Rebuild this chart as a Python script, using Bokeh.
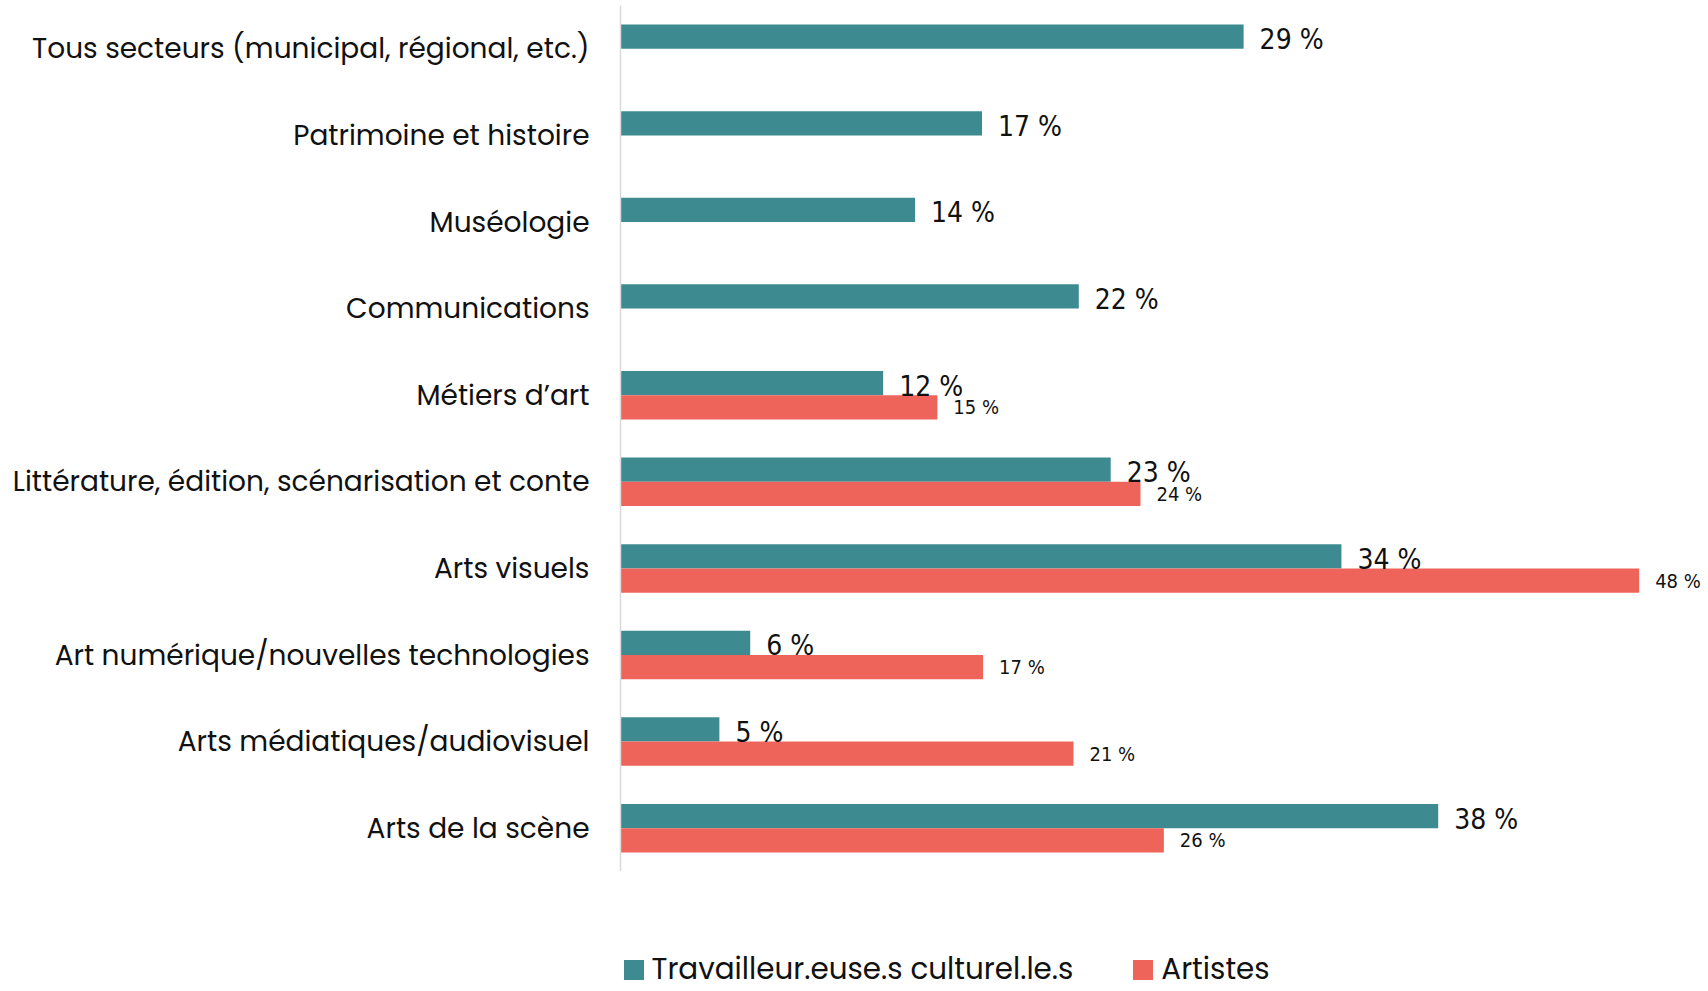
from bokeh.plotting import figure
from bokeh.layouts import column
from bokeh.models import ColumnDataSource, FactorRange, Legend, LegendItem, Range1d
from bokeh.transform import dodge
from bokeh.core.properties import value
from bokeh.embed import file_html
from bokeh.resources import INLINE

categories = [
    "Tous secteurs (municipal, régional, etc.)",
    "Patrimoine et histoire",
    "Muséologie",
    "Communications",
    "Métiers d’art",
    "Littérature, édition, scénarisation et conte",
    "Arts visuels",
    "Art numérique/nouvelles technologies",
    "Arts médiatiques/audiovisuel",
    "Arts de la scène",
]
# values (%); labels are the rounded values shown
travailleurs = [29.3, 17.0, 13.85, 21.55, 12.35, 23.05, 33.9, 6.1, 4.65, 38.45]
artistes = [None, None, None, None, 14.9, 24.45, 47.9, 17.05, 21.3, 25.55]
series_names = ["Travailleur.euse.s culturel.le.s", "Artistes"]

TEAL = "#3D8B91"
RED = "#EE645A"
LABEL_FONT = "Poppins, Open Sans, sans-serif"
NUM_FONT = "Liberation Sans Narrow, DejaVu Sans Condensed, sans-serif"

src_t = ColumnDataSource(dict(cat=categories, val=travailleurs,
                              lab=[f"{v:.0f} %" for v in travailleurs]))
a_cat = [c for c, v in zip(categories, artistes) if v is not None]
a_val = [v for v in artistes if v is not None]
src_a = ColumnDataSource(dict(cat=a_cat, val=a_val, lab=[f"{v:.0f} %" for v in a_val]))

p = figure(width=1708, height=871, output_backend="svg", toolbar_location=None,
           y_range=FactorRange(factors=list(reversed(categories))),
           x_range=Range1d(0, 51.16),
           min_border_left=620, min_border_right=0, min_border_top=5, min_border_bottom=0)
p.outline_line_color = None
p.grid.visible = False
p.xaxis.visible = False

H = 0.28
r_t = p.hbar(y=dodge("cat", H / 2, range=p.y_range), right="val", left=0, height=H,
             color=TEAL, line_color=None, source=src_t)
r_a = p.hbar(y=dodge("cat", -H / 2, range=p.y_range), right="val", left=0, height=H,
             color=RED, line_color=None, source=src_a)

p.text(x="val", y=dodge("cat", H / 2 - 0.035, range=p.y_range), text="lab", source=src_t,
       x_offset=16, text_baseline="middle", text_font=value(NUM_FONT),
       text_font_size="28px", text_color="#111111")
p.text(x="val", y=dodge("cat", -H / 2, range=p.y_range), text="lab", source=src_a,
       x_offset=16, text_baseline="middle", text_font=value(NUM_FONT),
       text_font_size="20px", text_color="#111111")

ya = p.yaxis[0]
ya.axis_line_color = "#D9D9D9"
ya.axis_line_width = 1.5
ya.major_tick_line_color = None
ya.minor_tick_line_color = None
ya.major_tick_out = 0
ya.major_tick_in = 0
ya.major_label_standoff = 31
ya.major_label_text_font = LABEL_FONT
ya.major_label_text_font_size = "28px"
ya.major_label_text_color = "#111111"

# legend strip below the chart (its renderers are hidden copies of the series)
q = figure(width=1708, height=120, output_backend="svg", toolbar_location=None,
           x_range=Range1d(0, 51.16), y_range=FactorRange(factors=list(reversed(categories))),
           min_border_left=620, min_border_right=0, min_border_top=0, min_border_bottom=0)
q.outline_line_color = None
q.grid.visible = False
q.axis.visible = False
lt = q.hbar(y="cat", right="val", left=0, height=H, color=TEAL, line_color=None,
            source=src_t, visible=False)
la = q.hbar(y="cat", right="val", left=0, height=H, color=RED, line_color=None,
            source=src_a, visible=False)
legend = Legend(items=[LegendItem(label=series_names[0], renderers=[lt]),
                       LegendItem(label=series_names[1], renderers=[la])],
                orientation="horizontal", location=(0.5, 0),
                glyph_width=25, glyph_height=25, label_standoff=6, spacing=57,
                padding=0, margin=0, border_line_color=None,
                background_fill_alpha=0, inactive_fill_alpha=0,
                label_text_font=LABEL_FONT, label_text_font_size="29.4px",
                label_text_color="#111111")
q.add_layout(legend, "center")

layout = column(p, q, spacing=0)
open("out.html", "w").write(file_html(layout, INLINE))
